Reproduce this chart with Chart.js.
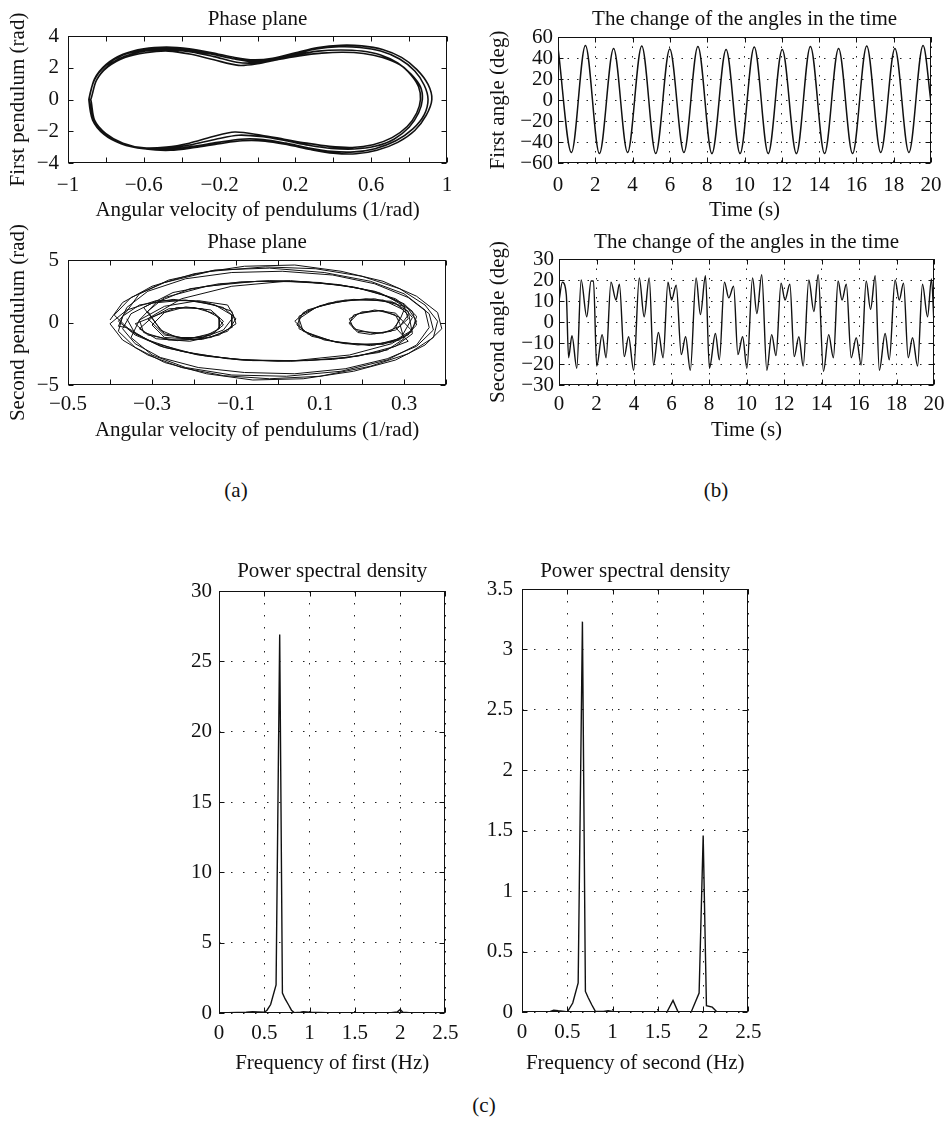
<!DOCTYPE html>
<html>
<head>
<meta charset="utf-8">
<script src="https://cdn.jsdelivr.net/npm/chart.js@4.4.0/dist/chart.umd.min.js"></script>
<style>
  body { margin: 0; background: #fff; }
  #page { position: relative; width: 952px; height: 1128px; overflow: hidden; background: #fff; }
  canvas { position: absolute; }
  .tag { position: absolute; font: 21px 'Liberation Serif', 'DejaVu Serif', serif; color: #111; transform: translate(-50%, -50%); }
</style>
</head>
<body>
<div id="page">
  <canvas id="phase1"></canvas>
  <canvas id="angle1"></canvas>
  <canvas id="phase2"></canvas>
  <canvas id="angle2"></canvas>
  <canvas id="psd1"></canvas>
  <canvas id="psd2"></canvas>
  <div class="tag" style="left:236px;top:490px">(a)</div>
  <div class="tag" style="left:716px;top:490px">(b)</div>
  <div class="tag" style="left:484px;top:1105px">(c)</div>
</div>
<script>
// first pendulum phase plane, four laps
const lapA_x = [-0.89,-0.86,-0.80,-0.71,-0.60,-0.48,-0.36,-0.24,-0.12,-0.02,0.08,0.20,0.32,0.44,0.55,0.66,0.76,0.84,0.90,0.92,0.89,0.83,0.74,0.63,0.52,0.40,0.28,0.16,0.04,-0.08,-0.20,-0.33,-0.46,-0.59,-0.71,-0.80,-0.86,-0.89];
const lapA_y = [0.0,1.3,2.2,2.85,3.2,3.3,3.2,2.95,2.65,2.5,2.6,2.95,3.28,3.42,3.38,3.15,2.65,1.9,0.95,0.0,-1.0,-1.95,-2.7,-3.2,-3.42,-3.38,-3.15,-2.85,-2.62,-2.6,-2.78,-3.02,-3.2,-3.12,-2.8,-2.2,-1.35,0.0];
const lapB_x = [-0.88,-0.85,-0.79,-0.70,-0.59,-0.47,-0.35,-0.23,-0.10,0.0,0.10,0.22,0.34,0.45,0.56,0.66,0.75,0.81,0.85,0.86,0.84,0.79,0.71,0.61,0.50,0.38,0.26,0.14,0.02,-0.12,-0.24,-0.36,-0.48,-0.60,-0.71,-0.80,-0.86,-0.88];
const lapB_y = [0.0,1.2,2.05,2.65,2.95,3.05,2.85,2.5,2.15,2.25,2.5,2.75,2.92,2.98,2.9,2.65,2.2,1.55,0.8,0.0,-0.85,-1.7,-2.4,-2.85,-3.02,-2.95,-2.75,-2.5,-2.25,-2.05,-2.35,-2.75,-3.0,-3.05,-2.75,-2.15,-1.3,0.0];
const lapC_x = [-0.89,-0.86,-0.80,-0.71,-0.60,-0.48,-0.36,-0.24,-0.12,-0.03,0.07,0.19,0.31,0.43,0.54,0.65,0.75,0.83,0.88,0.90,0.88,0.82,0.73,0.62,0.51,0.39,0.27,0.15,0.03,-0.09,-0.21,-0.34,-0.47,-0.60,-0.72,-0.81,-0.87,-0.89];
const lapC_y = [0.0,1.25,2.15,2.8,3.12,3.2,3.1,2.85,2.55,2.4,2.5,2.85,3.18,3.32,3.28,3.05,2.55,1.8,0.9,0.0,-0.95,-1.85,-2.6,-3.1,-3.3,-3.27,-3.05,-2.75,-2.52,-2.5,-2.7,-2.95,-3.15,-3.1,-2.78,-2.2,-1.3,0.0];
const lapD_x = [-0.88,-0.85,-0.79,-0.70,-0.59,-0.47,-0.35,-0.23,-0.11,-0.02,0.08,0.20,0.32,0.44,0.55,0.65,0.74,0.81,0.86,0.87,0.85,0.80,0.72,0.62,0.51,0.39,0.27,0.15,0.03,-0.10,-0.22,-0.35,-0.48,-0.60,-0.71,-0.80,-0.86,-0.88];
const lapD_y = [0.0,1.2,2.1,2.72,3.05,3.12,3.0,2.7,2.35,2.3,2.45,2.8,3.05,3.12,3.05,2.8,2.3,1.6,0.8,0.0,-0.85,-1.75,-2.5,-2.95,-3.12,-3.08,-2.88,-2.6,-2.35,-2.25,-2.5,-2.85,-3.08,-3.08,-2.78,-2.18,-1.3,0.0];

// second pendulum phase plane, four passes
const pass1_x = [-0.40,-0.37,-0.30,-0.20,-0.08,0.04,0.15,0.25,0.33,0.38,0.39,0.35,0.28,0.18,0.06,-0.06,-0.17,-0.27,-0.34,-0.38,
  -0.37,-0.33,-0.25,-0.17,-0.11,-0.10,-0.14,-0.21,-0.29,-0.33,
  -0.30,-0.26,-0.20,-0.15,-0.13,-0.16,-0.22,-0.27,-0.29,
  -0.32,-0.25,-0.14,-0.02,0.10,0.20,0.28,0.32,0.33,
  0.30,0.23,0.14,0.07,0.04,0.07,0.14,0.23,0.30,0.31,
  0.28,0.23,0.18,0.17,0.20,0.25,0.29,0.28,
  0.31,0.24,0.13,0.0,-0.12,-0.23,-0.31,-0.36];
const pass1_y = [0.2,1.6,2.9,3.9,4.5,4.6,4.1,3.3,2.1,0.8,-0.5,-1.8,-3.0,-3.9,-4.5,-4.6,-4.1,-3.2,-2.0,-0.7,
  0.5,1.4,1.85,1.6,0.9,-0.1,-1.0,-1.5,-1.3,-0.5,
  0.4,1.1,1.2,0.7,-0.2,-1.0,-1.3,-0.9,-0.1,
  1.2,2.4,3.1,3.35,3.2,2.7,1.9,0.9,-0.2,
  -1.2,-1.8,-1.6,-0.9,0.1,1.0,1.7,1.9,1.3,0.3,
  -0.6,-0.9,-0.5,0.3,0.85,0.95,0.4,-0.4,
  -1.5,-2.4,-2.95,-3.1,-2.9,-2.3,-1.4,-0.4];
const pass2_x = [-0.38,-0.36,-0.31,-0.22,-0.11,0.01,0.13,0.23,0.31,0.36,0.37,0.33,0.26,0.16,0.04,-0.08,-0.19,-0.28,-0.34,-0.37,
  -0.35,-0.30,-0.22,-0.15,-0.11,-0.11,-0.16,-0.24,-0.31,-0.34,
  -0.28,-0.24,-0.18,-0.14,-0.14,-0.18,-0.24,-0.28,
  -0.31,-0.27,-0.17,-0.05,0.07,0.18,0.26,0.31,0.33,
  0.31,0.25,0.16,0.08,0.045,0.06,0.12,0.21,0.28,0.31,
  0.29,0.25,0.19,0.17,0.19,0.24,0.28,0.29,
  0.30,0.26,0.16,0.03,-0.09,-0.20,-0.29,-0.35];
const pass2_y = [-0.3,1.2,2.5,3.5,4.0,4.1,3.8,3.1,2.0,0.7,-0.6,-1.9,-2.9,-3.7,-4.1,-4.0,-3.6,-2.8,-1.7,-0.5,
  0.7,1.55,1.8,1.4,0.6,-0.4,-1.2,-1.45,-1.0,-0.1,
  0.7,1.2,1.1,0.4,-0.5,-1.2,-1.2,-0.6,
  0.9,2.0,2.9,3.3,3.25,2.85,2.1,1.1,0.1,
  -1.0,-1.75,-1.7,-1.1,-0.2,0.8,1.55,1.9,1.55,0.6,
  -0.3,-0.85,-0.7,0.0,0.7,0.95,0.6,-0.1,
  -1.3,-2.2,-2.85,-3.1,-3.0,-2.5,-1.7,-0.7];
const pass3_x = [-0.39,-0.35,-0.27,-0.16,-0.03,0.09,0.20,0.29,0.35,0.38,0.37,0.31,0.22,0.10,-0.02,-0.13,-0.23,-0.31,-0.37,-0.40,
  -0.36,-0.29,-0.20,-0.13,-0.10,-0.12,-0.18,-0.26,-0.32,-0.33,
  -0.29,-0.21,-0.09,0.03,0.15,0.24,0.30,0.33,0.32,
  0.27,0.19,0.11,0.05,0.05,0.10,0.18,0.27,0.31,
  0.32,0.28,0.19,0.07,-0.06,-0.17,-0.27,-0.34,-0.38];
const pass3_y = [0.6,2.0,3.2,4.1,4.45,4.3,3.7,2.7,1.4,0.1,-1.2,-2.5,-3.5,-4.3,-4.5,-4.25,-3.6,-2.6,-1.4,-0.1,
  1.0,1.75,1.75,1.2,0.3,-0.7,-1.35,-1.4,-0.8,0.2,
  1.6,2.7,3.25,3.35,3.0,2.4,1.5,0.5,-0.6,
  -1.6,-1.8,-1.4,-0.5,0.5,1.35,1.85,1.7,0.9,
  -0.9,-1.9,-2.7,-3.05,-3.05,-2.7,-2.0,-1.0,0.1];
const pass4_x = [-0.36,-0.33,-0.26,-0.15,-0.02,0.11,0.22,0.30,0.35,0.36,0.33,0.26,0.15,0.02,-0.11,-0.22,-0.30,-0.35,
  -0.33,-0.27,-0.19,-0.12,-0.105,-0.13,-0.19,-0.27,
  -0.30,-0.27,-0.22,-0.16,-0.13,-0.15,-0.21,-0.27,
  -0.31,-0.23,-0.11,0.02,0.14,0.23,0.29,0.32,
  0.29,0.22,0.13,0.06,0.05,0.09,0.16,0.25,0.30,
  0.29,0.27,0.22,0.19,0.17,0.18,0.23,0.28,0.30,
  0.32,0.27,0.17,0.04,-0.08,-0.19,-0.28,-0.34,-0.36];
const pass4_y = [0.9,2.3,3.4,4.2,4.35,4.0,3.3,2.3,1.0,-0.4,-1.8,-3.0,-3.9,-4.3,-4.2,-3.6,-2.6,-1.2,
  0.2,1.3,1.75,1.4,0.5,-0.6,-1.35,-1.2,
  -0.2,0.8,1.25,1.0,0.1,-0.8,-1.3,-1.0,
  0.3,1.9,2.9,3.3,3.05,2.5,1.6,0.4,
  -1.4,-1.85,-1.5,-0.7,0.3,1.2,1.8,1.8,1.0,
  0.2,-0.7,-0.95,-0.8,-0.1,0.6,1.0,0.75,0.0,
  -0.7,-1.7,-2.6,-3.05,-3.0,-2.6,-1.9,-0.9,0.3];

// first angle: turning points over time (s, deg)
const time1 = [0,0.72,1.47,2.22,2.98,3.73,4.49,5.24,5.99,6.75,7.50,8.25,9.01,9.76,10.52,11.27,12.02,12.78,13.53,14.29,15.04,15.79,16.55,17.30,18.06,18.81,19.57,20];
const angle1 = [50,-50,52,-51,49,-50,51.5,-51,48.5,-50,51,-51,48,-51,50.5,-51,48,-51,51,-51,49,-51,51.5,-50,49,-50,52,-3];

// second angle: turning points over time (s, deg)
const time2 = [0,0.18,0.39,0.51,0.69,0.95,1.18,1.48,1.71,1.84,2.01,2.3,2.51,2.77,3.04,3.22,3.48,3.71,3.98,4.28,4.54,4.81,5.04,5.3,5.55,5.81,6.0,6.25,6.52,6.75,7.0,7.31,7.54,7.81,8.02,8.34,8.55,8.82,9.05,9.31,9.54,9.79,10.02,10.32,10.55,10.81,11.08,11.34,11.57,11.84,12.05,12.31,12.54,12.79,13.02,13.32,13.59,13.82,14.1,14.38,14.63,14.88,15.09,15.32,15.58,15.85,16.11,16.38,16.61,16.86,17.08,17.39,17.61,17.92,18.14,18.37,18.62,18.85,19.12,19.38,19.65,19.86,20];
const angle2 = [10,19,13,-17,-6.5,-22,20,2.5,19.5,19.5,-21,-6,-17,19,10.5,18,-16.5,-7,-23,21,2.5,21,-20.5,-5,-17,19,10.5,17.5,-15.5,-7,-23,21,3.5,22,-22,-5.5,-18,19,11.5,17,-15.5,-7,-22,21,4,22.5,-23,-6,-16,18.5,10.5,18,-16.5,-7,-21,20,5,22.5,-23.5,-6,-17,19.5,10.5,18,-17,-7.5,-20.5,19.5,6,22,-23,-5.5,-18,20,10.5,18.5,-17,-7.5,-21,18,2.5,20.5,-2];

// power spectral density
const freq1 = [0,0.1,0.2,0.3,0.37,0.43,0.5,0.53,0.57,0.63,0.67,0.70,0.73,0.77,0.80,0.83,0.9,0.93,0.97,1.03,1.1,1.2,1.3,1.4,1.5,1.6,1.7,1.8,1.9,1.97,2.0,2.03,2.1,2.2,2.3];
const power1 = [0.02,0.03,0.04,0.05,0.1,0.08,0.05,0.2,0.6,2.0,26.9,1.42,1.0,0.55,0.2,0.03,0.05,0.1,0.08,0.04,0.04,0.03,0.03,0.02,0.02,0.02,0.02,0.02,0.02,0.08,0.25,0.05,0.02,0.02,0.02];
const freq2 = [0,0.1,0.2,0.3,0.35,0.4,0.47,0.5,0.56,0.62,0.667,0.70,0.73,0.77,0.81,0.9,0.95,1.0,1.1,1.2,1.3,1.4,1.5,1.6,1.667,1.72,1.8,1.87,1.955,2.0,2.036,2.1,2.15,2.2,2.3];
const power2 = [0,0,0,0,0.015,0.01,0.005,0,0.074,0.24,3.23,0.17,0.12,0.06,0.005,0.005,0.01,0.005,0,0,0,0,0,0,0.096,0.005,0,0.005,0.157,1.46,0.052,0.04,0.003,0,0];

const phase1X = [].concat(lapA_x, lapB_x, lapC_x, lapD_x);
const phase1Y = [].concat(lapA_y, lapB_y, lapC_y, lapD_y);
const phase2X = [].concat(pass1_x, pass2_x, pass3_x, pass4_x);
const phase2Y = [].concat(pass1_y, pass2_y, pass3_y, pass4_y);

Chart.defaults.font.family = "'Liberation Serif', 'DejaVu Serif', serif";
Chart.defaults.font.size = 21;
Chart.defaults.color = '#111';

const fmt = v => String(Math.round(v * 100) / 100).replace('-', '\u2212');

// MATLAB style box with inward ticks on all four sides
const boxTicks = {
  id: 'boxTicks',
  afterDraw(chart) {
    const { ctx, chartArea: a, scales } = chart;
    const len = 5;
    const l = Math.round(a.left) + 0.5, r = Math.round(a.right) - 0.5;
    const t = Math.round(a.top) + 0.5, b = Math.round(a.bottom) - 0.5;
    ctx.save();
    ctx.strokeStyle = '#111';
    ctx.lineWidth = 1;
    ctx.beginPath();
    scales.x.ticks.forEach(tk => {
      const px = Math.round(scales.x.getPixelForValue(tk.value)) + 0.5;
      ctx.moveTo(px, b); ctx.lineTo(px, b - len);
      ctx.moveTo(px, t); ctx.lineTo(px, t + len);
    });
    scales.y.ticks.forEach(tk => {
      const py = Math.round(scales.y.getPixelForValue(tk.value)) + 0.5;
      ctx.moveTo(l, py); ctx.lineTo(l + len, py);
      ctx.moveTo(r, py); ctx.lineTo(r - len, py);
    });
    ctx.stroke();
    ctx.strokeRect(l, t, r - l, b - t);
    ctx.restore();
  }
};

function drawPlot(id, box, xs, ys, c) {
  const canvas = document.getElementById(id);
  canvas.width = box.w; canvas.height = box.h;
  canvas.style.left = box.l + 'px'; canvas.style.top = box.t + 'px';
  const grid = c.grid
    ? { display: true, color: '#222', lineWidth: 1, drawTicks: false }
    : { display: false, drawTicks: false };
  const border = { display: false, dash: c.dash || [] };
  return new Chart(canvas, {
    type: 'scatter',
    data: {
      datasets: [{
        data: xs.map((x, i) => ({ x: x, y: ys[i] })),
        showLine: true,
        pointRadius: 0,
        borderColor: '#111',
        borderWidth: c.lw,
        tension: c.tension || 0,
        cubicInterpolationMode: c.mono ? 'monotone' : 'default'
      }]
    },
    options: {
      responsive: false,
      animation: false,
      layout: { padding: { left: 0, top: 0, right: box.rp, bottom: 0 } },
      plugins: {
        legend: { display: false },
        tooltip: { enabled: false },
        title: {
          display: true, text: c.title, fullSize: false, color: '#111',
          font: { size: 21, weight: 'normal' },
          padding: { top: box.tpt, bottom: box.tpb }
        }
      },
      scales: {
        x: {
          type: 'linear', min: c.xmin, max: c.xmax,
          ticks: { stepSize: c.xstep, autoSkip: false, maxRotation: 0, minRotation: 0, padding: box.xpad, callback: c.xlabel || fmt },
          grid: grid, border: border,
          title: { display: true, text: c.xtitle, padding: { top: 0, bottom: 0 } },
          afterFit: s => { s.height = box.hx; }
        },
        y: {
          type: 'linear', min: c.ymin, max: c.ymax,
          ticks: { stepSize: c.ystep, autoSkip: false, padding: box.ypad, callback: fmt },
          grid: grid, border: border,
          title: { display: !!c.ytitle, text: c.ytitle, padding: { top: box.ypt, bottom: 0 } },
          afterFit: s => { s.width = box.wy; }
        }
      }
    },
    plugins: [boxTicks]
  });
}

drawPlot('phase1', { l: 0, t: 0, w: 467, h: 223, rp: 20, tpt: 7, tpb: 3.8, hx: 60, wy: 68, ypt: 5.4, xpad: 9.4, ypad: 9 },
  phase1X, phase1Y, {
    title: 'Phase plane', xtitle: 'Angular velocity of pendulums (1/rad)', ytitle: 'First pendulum (rad)',
    xmin: -1, xmax: 1, xstep: 0.2, ymin: -4, ymax: 4, ystep: 2, lw: 1.6, tension: 0.3,
    xlabel: v => Math.abs(Math.round(v * 10)) % 4 === 2 ? fmt(v) : ''
  });

drawPlot('phase2', { l: 0, t: 220, w: 466, h: 223, rp: 20, tpt: 9.4, tpb: 5.4, hx: 58, wy: 68, ypt: 5.4, xpad: 6.4, ypad: 9 },
  phase2X, phase2Y, {
    title: 'Phase plane', xtitle: 'Angular velocity of pendulums (1/rad)', ytitle: 'Second pendulum (rad)',
    xmin: -0.5, xmax: 0.4, xstep: 0.1, ymin: -5, ymax: 5, ystep: 5, lw: 1,
    xlabel: v => Math.abs(Math.round(v * 10)) % 2 === 1 ? fmt(v) : ''
  });

drawPlot('angle1', { l: 470, t: 0, w: 481, h: 223, rp: 14, tpt: 7, tpb: 4.8, hx: 60, wy: 88, ypt: 15.4, xpad: 9.4, ypad: 5 },
  time1, angle1, {
    title: 'The change of the angles in the time', xtitle: 'Time (s)', ytitle: 'First angle (deg)',
    xmin: 0, xmax: 20, xstep: 2, ymin: -60, ymax: 60, ystep: 20, lw: 1.5, mono: true,
    grid: true, dash: [1.5, 8]
  });

drawPlot('angle2', { l: 470, t: 220, w: 481, h: 223, rp: 14, tpt: 9.4, tpb: 4.4, hx: 58, wy: 89, ypt: 15.4, xpad: 6.4, ypad: 5 },
  time2, angle2, {
    title: 'The change of the angles in the time', xtitle: 'Time (s)', ytitle: 'Second angle (deg)',
    xmin: 0, xmax: 20, xstep: 2, ymin: -30, ymax: 30, ystep: 10, lw: 1.4, mono: true,
    grid: true, dash: [1.5, 8]
  });

drawPlot('psd1', { l: 150, t: 540, w: 316, h: 536, rp: 20, tpt: 18.9, tpb: 6.9, hx: 63, wy: 69, ypt: 0, xpad: 7.4, ypad: 7 },
  freq1, power1, {
    title: 'Power spectral density', xtitle: 'Frequency of first (Hz)',
    xmin: 0, xmax: 2.5, xstep: 0.5, ymin: 0, ymax: 30, ystep: 5, lw: 1.4,
    grid: true, dash: [1.5, 10.5]
  });

drawPlot('psd2', { l: 460, t: 540, w: 309, h: 536, rp: 20, tpt: 18.9, tpb: 4.9, hx: 64, wy: 62, ypt: 0, xpad: 7.4, ypad: 9 },
  freq2, power2, {
    title: 'Power spectral density', xtitle: 'Frequency of second (Hz)',
    xmin: 0, xmax: 2.5, xstep: 0.5, ymin: 0, ymax: 3.5, ystep: 0.5, lw: 1.4,
    grid: true, dash: [1.5, 10.5]
  });
</script>
</body>
</html>
